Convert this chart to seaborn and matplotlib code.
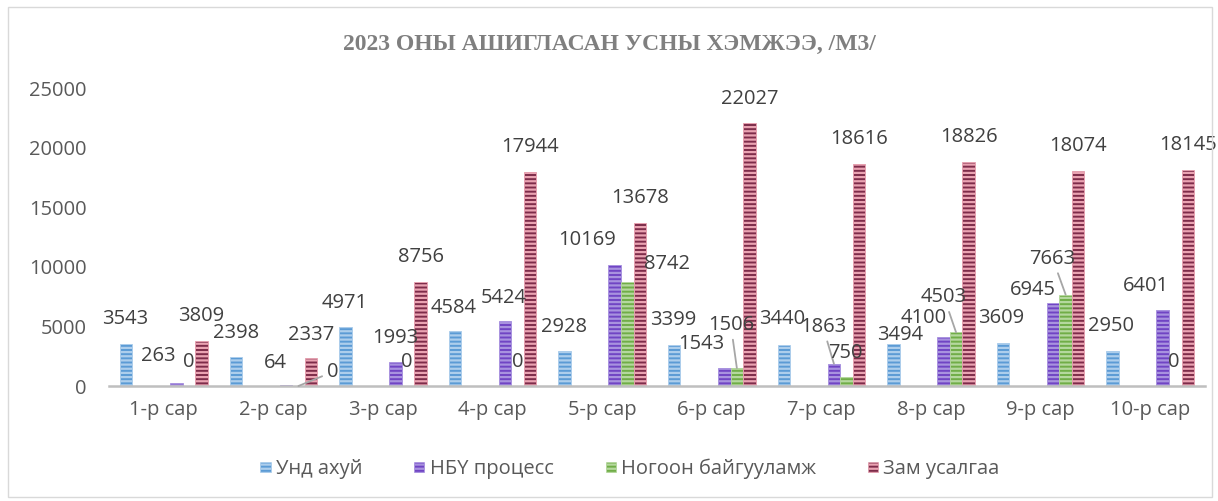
import numpy as np
import pandas as pd
import matplotlib
matplotlib.use("Agg")
import matplotlib.pyplot as plt
import seaborn as sns
from matplotlib.patches import Patch, Rectangle
from matplotlib.colors import to_hex

# ---------------- data ----------------
months = ["1-р сар", "2-р сар", "3-р сар", "4-р сар", "5-р сар",
          "6-р сар", "7-р сар", "8-р сар", "9-р сар", "10-р сар"]
series_names = ["Унд ахуй", "НБҮ процесс", "Ногоон байгууламж", "Зам усалгаа"]
und_ahui = [3543, 2398, 4971, 4584, 2928, 3399, 3440, 3494, 3609, 2950]
nbu_process = [263, 64, 1993, 5424, 10169, 1543, 1863, 4100, 6945, 6401]
nogoon = [0, 0, 0, 0, 8742, 1506, 750, 4503, 7663, 0]
zam_usalgaa = [3809, 2337, 8756, 17944, 13678, 22027, 18616, 18826, 18074, 18145]
yticks = [0, 5000, 10000, 15000, 20000, 25000]
title = "2023 ОНЫ АШИГЛАСАН УСНЫ ХЭМЖЭЭ, /М3/"

values = [und_ahui, nbu_process, nogoon, zam_usalgaa]
df = pd.DataFrame({
    "month": np.repeat([months], 4, axis=0).ravel(),
    "series": np.repeat(series_names, len(months)),
    "value": np.concatenate(values),
})

# ---------------- style ----------------
base_colors = ["#5B9BD5", "#7044C4", "#70AD47", "#7E2C4A"]
stripe_colors = ["#ADCEEC", "#A892DF", "#B5D89E", "#EAA3B2"]
# empty slots (hidden series in the original workbook) keep the spacing
slots = [series_names[0], " ", "  ", "   "] + series_names[1:]
palette = {s: "#FFFFFF" for s in slots}
palette.update(dict(zip(series_names, base_colors)))

# label offsets in pixels (dx, dy above bar top) -- layout only
label_off = [
    [(-1, 25), (0, 24), (-1, 24), (-1, 23), (-1, 24), (-1, 25), (-2, 26), (7, 9), (-2, 25), (-2, 25)],
    [(-18, 27), (-11, 22), (0, 24), (-1, 23), (-28, 25), (-23, 24), (-11, 37), (-20, 19), (-20, 13), (-17, 24)],
    [(0, 24), (34, 14), (-1, 24), (0, 24), (40, 18), (-6, 43), (-1, 24), (-12, 35), (-13, 36), (-2, 24)],
    [(0, 25), (0, 23), (0, 25), (0, 25), (0, 25), (0, 24), (0, 25), (0, 25), (0, 25), (0, 25)],
]
leaders = {(1, 6), (2, 1), (2, 5), (2, 7), (2, 8)}

sns.set_style("white")
FONT = ["Open Sans", "DejaVu Sans"]
plt.rcParams["font.family"] = FONT
plt.rcParams["hatch.linewidth"] = 1.6
FS = 14.5

fig = plt.figure(figsize=(12.18, 5.01), dpi=100)
ax = fig.add_axes([109 / 1218, 115 / 501, 1096 / 1218, 298 / 501])

sns.barplot(data=df, x="month", y="value", hue="series", hue_order=slots,
            order=months, palette=palette, width=0.8, dodge=True,
            saturation=1, legend=False, ax=ax, errorbar=None)

# style bars: group patches by series through their colour
groups = {i: [] for i in range(4)}
for p in ax.patches:
    fc = to_hex(p.get_facecolor()).upper()
    for i, c in enumerate(base_colors):
        if fc == c.upper():
            groups[i].append(p)
            p.set_hatch("----")
            p.set_edgecolor(stripe_colors[i])
            p.set_linewidth(0.6)
            break

for i in range(4):
    pats = sorted(groups[i], key=lambda q: q.get_x())
    for j, p in enumerate(pats):
        v = values[i][j]
        cx = p.get_x() + p.get_width() / 2
        dx, dy = label_off[i][j]
        kw = {}
        if (i, j) in leaders:
            kw["arrowprops"] = dict(arrowstyle="-", color="#A6A6A6", lw=1.3,
                                    shrinkA=1, shrinkB=0)
        ax.annotate(f"{v}", xy=(cx, v), xytext=(dx, dy), textcoords="offset pixels",
                    ha="center", va="center", fontsize=FS, color="#404040",
                    family=FONT, **kw)

ax.set_xlim(-0.5, len(months) - 0.5)
ax.set_ylim(0, 25000)
ax.set_yticks(yticks)
ax.set_yticklabels([str(t) for t in yticks])
ax.set_xlabel("")
ax.set_ylabel("")
for s in ["top", "right", "left"]:
    ax.spines[s].set_visible(False)
ax.spines["bottom"].set_color("#BFBFBF")
ax.spines["bottom"].set_linewidth(1.8)
ax.tick_params(axis="y", length=0, pad=16, labelsize=FS, labelcolor="#595959")
ax.tick_params(axis="x", which="major", length=0, pad=10, labelsize=FS, labelcolor="#595959")
ax.set_xticks(np.arange(-0.5, len(months)), minor=True)
ax.tick_params(axis="x", which="minor", length=4, width=1.8, color="#BFBFBF")
ax.grid(False)

fig.text(609 / 1218, 1 - 44 / 501, title, ha="center", va="center",
         family=["Liberation Serif", "DejaVu Serif"], fontweight="bold",
         fontsize=17, color="#7F7F7F")

handles = [Patch(facecolor=base_colors[i], edgecolor=stripe_colors[i], hatch="----",
                 linewidth=0.4, label=series_names[i]) for i in range(4)]
fig.legend(handles=handles, loc="center", bbox_to_anchor=(630 / 1218, 1 - 469 / 501),
           ncol=4, frameon=False, fontsize=FS, handlelength=0.5, handleheight=0.45,
           handletextpad=0.25, columnspacing=2.6, labelcolor="#595959")

fig.add_artist(Rectangle((8 / 1218, 4 / 501), 1204 / 1218, 490 / 501,
                         transform=fig.transFigure, fill=False,
                         edgecolor="#D9D9D9", linewidth=1.0))

fig.savefig("out.png", dpi=100, facecolor="white")
